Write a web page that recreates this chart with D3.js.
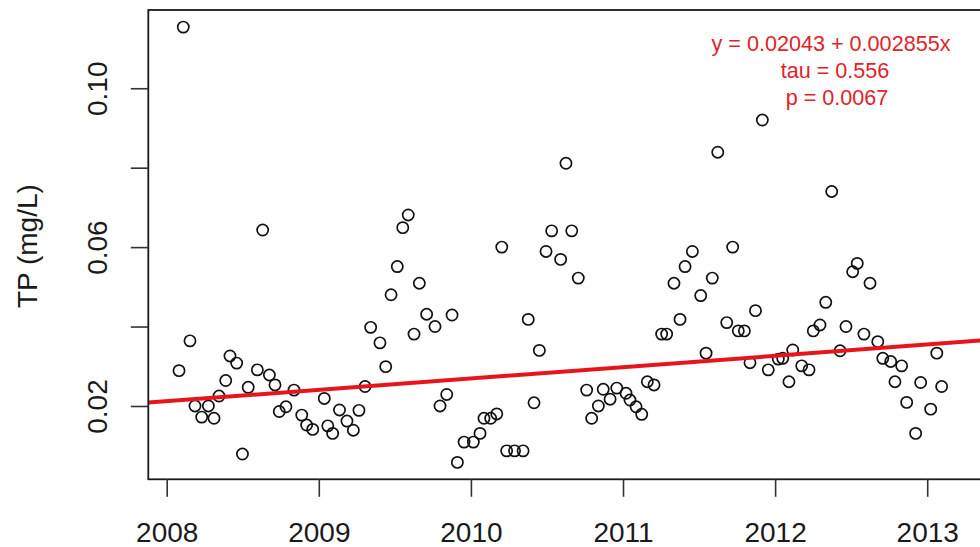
<!DOCTYPE html>
<html>
<head>
<meta charset="utf-8">
<script src="https://cdn.jsdelivr.net/npm/d3@7/dist/d3.min.js"></script>
<style>
  html, body { margin: 0; padding: 0; background: #fff; }
  svg { display: block; }
  text { font-family: "Liberation Sans", Arial, Helvetica, sans-serif; }
</style>
</head>
<body>
<svg id="chart" width="980" height="547"></svg>
<script>
// ---- data (decimal year, TP mg/L) ----
const years = [
  2008.081, 2008.109, 2008.153, 2008.186, 2008.230, 2008.274, 2008.311, 2008.344, 2008.388, 2008.416,
  2008.460, 2008.498, 2008.536, 2008.596, 2008.631, 2008.675, 2008.712, 2008.740, 2008.784, 2008.837,
  2008.888, 2008.920, 2008.960, 2009.036, 2009.059, 2009.091, 2009.136, 2009.185, 2009.227, 2009.264,
  2009.304, 2009.341, 2009.402, 2009.440, 2009.475, 2009.516, 2009.552, 2009.588, 2009.626, 2009.661,
  2009.709, 2009.764, 2009.797, 2009.841, 2009.876, 2009.911, 2009.955, 2010.016, 2010.060, 2010.086,
  2010.130, 2010.170, 2010.203, 2010.235, 2010.287, 2010.343, 2010.377, 2010.415, 2010.450, 2010.494,
  2010.531, 2010.625, 2010.590, 2010.663, 2010.706, 2010.761, 2010.794, 2010.838, 2010.870, 2010.915,
  2010.959, 2011.020, 2011.046, 2011.086, 2011.123, 2011.160, 2011.204, 2011.254, 2011.287, 2011.335,
  2011.375, 2011.408, 2011.456, 2011.511, 2011.546, 2011.587, 2011.623, 2011.682, 2011.721, 2011.758,
  2011.798, 2011.835, 2011.871, 2011.916, 2011.955, 2012.021, 2012.050, 2012.091, 2012.116, 2012.175,
  2012.223, 2012.251, 2012.295, 2012.333, 2012.372, 2012.427, 2012.466, 2012.510, 2012.540, 2012.584,
  2012.624, 2012.675, 2012.708, 2012.760, 2012.788, 2012.832, 2012.865, 2012.924, 2012.957, 2013.023,
  2013.063, 2013.095
];
const tpValues = [
  0.0289, 0.1154, 0.0364, 0.0200, 0.0172, 0.0200, 0.0169, 0.0225, 0.0264, 0.0326,
  0.0308, 0.0079, 0.0247, 0.0291, 0.0643, 0.0278, 0.0253, 0.0186, 0.0198, 0.0240,
  0.0177, 0.0152, 0.0141, 0.0219, 0.0150, 0.0131, 0.0190, 0.0162, 0.0139, 0.0189,
  0.0249, 0.0398, 0.0359, 0.0299, 0.0480, 0.0551, 0.0649, 0.0681, 0.0381, 0.0509,
  0.0431, 0.0400, 0.0200, 0.0229, 0.0429, 0.0058, 0.0109, 0.0109, 0.0131, 0.0169,
  0.0169, 0.0180, 0.0600, 0.0087, 0.0087, 0.0087, 0.0418, 0.0208, 0.0340, 0.0589,
  0.0641, 0.0811, 0.0569, 0.0641, 0.0522, 0.0240, 0.0169, 0.0200, 0.0242, 0.0217,
  0.0245, 0.0232, 0.0215, 0.0198, 0.0179, 0.0261, 0.0253, 0.0381, 0.0381, 0.0509,
  0.0418, 0.0551, 0.0589, 0.0478, 0.0333, 0.0522, 0.0839, 0.0410, 0.0600, 0.0389,
  0.0389, 0.0309, 0.0440, 0.0920, 0.0291, 0.0318, 0.0320, 0.0261, 0.0341, 0.0301,
  0.0291, 0.0389, 0.0404, 0.0461, 0.0740, 0.0339, 0.0400, 0.0538, 0.0559, 0.0381,
  0.0509, 0.0362, 0.0320, 0.0312, 0.0261, 0.0301, 0.0209, 0.0131, 0.0259, 0.0192,
  0.0333, 0.0249
];
const xTickValues = [2008, 2009, 2010, 2011, 2012, 2013];
const xTickLabels = ["2008", "2009", "2010", "2011", "2012", "2013"];
const yTickValues = [0.02, 0.04, 0.06, 0.08, 0.10];
const yTickLabels = ["0.02", "", "0.06", "", "0.10"];
const yLabel = "TP (mg/L)";
// Sen slope fit annotation
const fitIntercept = 0.02043;
const fitSlope = 0.002855;
const fitOriginYear = 2007.73;
const annotationLines = ["y = 0.02043 + 0.002855x", "tau = 0.556", "p = 0.0067"];

// ---- layout ----
const svg = d3.select("#chart");
const plotLeft = 148.3, plotTop = 10, plotBottom = 479.3;
const pxPerYear = 152.1;
const xDomain = [2007.879, 2013.45];
const yDomain = [0.00154, 0.1197];
const plotRight = plotLeft + (xDomain[1] - xDomain[0]) * pxPerYear;

const x = d3.scaleLinear().domain(xDomain).range([plotLeft, plotRight]);
const y = d3.scaleLinear().domain(yDomain).range([plotBottom, plotTop]);

svg.append("rect").attr("width", 980).attr("height", 547).attr("fill", "#fff");

// points
svg.append("g").selectAll("circle")
  .data(years.map((yr, i) => ({yr, v: tpValues[i]})))
  .join("circle")
  .attr("cx", d => x(d.yr))
  .attr("cy", d => y(d.v))
  .attr("r", 5.6)
  .attr("fill", "none")
  .attr("stroke", "#111")
  .attr("stroke-width", 1.7);

// fit line
const fit = yr => fitIntercept + fitSlope * (yr - fitOriginYear);
svg.append("line")
  .attr("x1", x(xDomain[0])).attr("y1", y(fit(xDomain[0])))
  .attr("x2", x(xDomain[1])).attr("y2", y(fit(xDomain[1])))
  .attr("stroke", "#e8141c")
  .attr("stroke-width", 4);

// box
svg.append("rect")
  .attr("x", plotLeft).attr("y", plotTop)
  .attr("width", plotRight - plotLeft).attr("height", plotBottom - plotTop)
  .attr("fill", "none").attr("stroke", "#1a1a1a").attr("stroke-width", 1.8);

// x axis
const xAxis = d3.axisBottom(x).tickValues(xTickValues)
  .tickFormat((d, i) => xTickLabels[i]).tickSize(17.5).tickPadding(25);
const gx = svg.append("g").attr("transform", `translate(0,${plotBottom})`).call(xAxis);
gx.select(".domain").remove();
gx.selectAll(".tick line").attr("stroke", "#333").attr("stroke-width", 1.6);
gx.selectAll(".tick text").attr("font-size", 28).attr("fill", "#1a1a1a")
  .attr("dy", null).attr("y", 62.4);

// y axis
const yAxis = d3.axisLeft(y).tickValues(yTickValues)
  .tickFormat((d, i) => yTickLabels[i]).tickSize(17.5);
const gy = svg.append("g").attr("transform", `translate(${plotLeft},0)`).call(yAxis);
gy.select(".domain").remove();
gy.selectAll(".tick line").attr("stroke", "#333").attr("stroke-width", 1.6);
gy.selectAll(".tick text")
  .attr("font-size", 28).attr("fill", "#1a1a1a")
  .attr("x", null).attr("dy", null)
  .attr("text-anchor", "middle")
  .attr("transform", "translate(-41.5,0) rotate(-90)");

// y label
svg.append("text")
  .attr("transform", `translate(37,${(plotTop + plotBottom) / 2 + 1.5}) rotate(-90)`)
  .attr("text-anchor", "middle")
  .attr("font-size", 28)
  .attr("fill", "#1a1a1a")
  .text(yLabel);

// annotation
const annX = [831, 835, 837];
const annY = [50.8, 78, 104.5];
svg.append("g").selectAll("text")
  .data(annotationLines)
  .join("text")
  .attr("x", (d, i) => annX[i])
  .attr("y", (d, i) => annY[i])
  .attr("text-anchor", "middle")
  .attr("font-size", 21.6)
  .attr("fill", "#e0232b")
  .text(d => d);
</script>
</body>
</html>
